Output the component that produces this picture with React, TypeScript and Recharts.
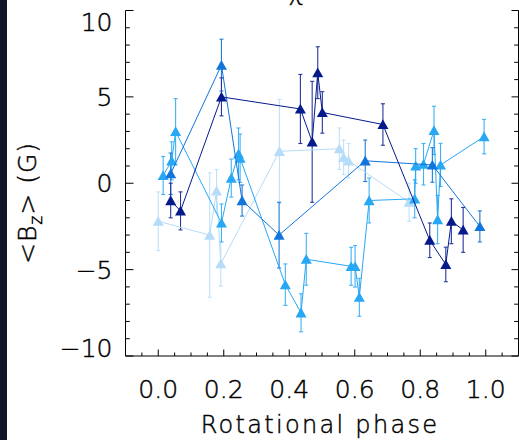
import React from "react";
import { ScatterChart, Scatter, XAxis, YAxis, ErrorBar, Label } from "recharts";

// Rotational phase, <Bz> (G), error (G)
const navyPhase = [0.038, 0.068, 0.193, 0.434, 0.47, 0.487, 0.501, 0.686, 0.829, 0.878, 0.895, 0.931];
const navyBz = [-1.0, -1.6, 5.0, 4.3, 2.4, 6.4, 4.1, 3.4, -3.3, -4.7, -2.2, -2.7];
const navyErr = [1.0, 1.1, 1.1, 2.0, 3.5, 1.5, 1.2, 1.2, 1.0, 1.0, 1.3, 1.3];

const deepPhase = [0.038, 0.193, 0.256, 0.369, 0.632, 0.837, 0.982];
const deepBz = [0.55, 6.84, -1.0, -3.0, 1.3, 1.06, -2.5];
const deepErr = [1.2, 1.5, 0.9, 1.9, 1.2, 1.0, 0.9];

const skyPhase = [0.015, 0.041, 0.053, 0.193, 0.223, 0.245, 0.25, 0.388, 0.436, 0.452, 0.589, 0.601, 0.614, 0.644, 0.783, 0.786, 0.81, 0.842, 0.853, 0.862, 0.995];
const skyBz = [0.45, 1.3, 3.0, -2.3, 0.3, 1.7, 1.45, -5.87, -7.5, -4.4, -4.81, -4.81, -6.6, -1.0, -0.9, 1.0, 1.1, 3.06, -2.1, 1.06, 2.7];
const skyErr = [1.1, 1.1, 1.9, 1.1, 1.1, 1.5, 1.4, 1.2, 1.1, 1.5, 1.1, 1.2, 1.1, 1.3, 1.1, 1.0, 1.2, 1.4, 1.4, 1.25, 1.0];

const lightPhase = [0.0, 0.157, 0.178, 0.191, 0.37, 0.553, 0.566, 0.581, 0.766];
const lightBz = [-2.2, -3.0, -0.45, -4.66, 1.85, 2.0, 1.5, 1.3, -1.1];
const lightErr = [1.7, 3.6, 1.25, 1.3, 3.0, 1.2, 1.0, 1.0, 1.1];

const xMajor = [0.0, 0.2, 0.4, 0.6, 0.8, 1.0];
const xMinor = [-0.1, -0.05, 0.0, 0.05, 0.1, 0.15, 0.2, 0.25, 0.3, 0.35, 0.4, 0.45, 0.5, 0.55, 0.6, 0.65, 0.7, 0.75, 0.8, 0.85, 0.9, 0.95, 1.0, 1.05, 1.1];
const yMajor = [-10, -5, 0, 5, 10];
const yMinor = [-10, -9, -8, -7, -6, -5, -4, -3, -2, -1, 0, 1, 2, 3, 4, 5, 6, 7, 8, 9, 10];

const build = (p: number[], b: number[], e: number[]) => p.map((x, i) => ({ x, y: b[i], err: e[i] }));

const series = [
  { name: "light", color: "#b5dcf8", bar: "#bfe2fa", data: build(lightPhase, lightBz, lightErr) },
  { name: "sky", color: "#27a7f4", bar: "#3fb2f6", data: build(skyPhase, skyBz, skyErr) },
  { name: "deep", color: "#1275dc", bar: "#1f7ad8", data: build(deepPhase, deepBz, deepErr) },
  { name: "navy", color: "#061a8c", bar: "#26369c", data: build(navyPhase, navyBz, navyErr) },
];

const FONT = "DejaVu Sans";
const FW = 200;
const INK = "#000";
const TS = { stroke: "#000", strokeWidth: 0.45 };
const isMajor = (v: number, list: number[]) => list.some((m) => Math.abs(m - v) < 1e-6);

const Tri = (color: string) => (props: any) => {
  const { cx, cy } = props;
  if (cx == null || cy == null) return null;
  const pts = `${cx},${cy - 5.2} ${cx - 5.5},${cy + 4.6} ${cx + 5.5},${cy + 4.6}`;
  return <polygon points={pts} fill={color} stroke="none" />;
};

const BottomTick = (props: any) => {
  const { x, y, payload } = props;
  const axisY = y - 4;
  const major = isMajor(payload.value, xMajor);
  return (
    <g>
      <line x1={x} x2={x} y1={axisY} y2={axisY - (major ? 6.5 : 3.5)} stroke="#000" strokeWidth={1} />
      {major && (
        <text x={x} y={axisY + 42} textAnchor="middle" fontFamily={FONT} fontWeight={FW} fontSize={25} fill={INK} {...TS}>
          {payload.value.toFixed(1)}
        </text>
      )}
    </g>
  );
};

const TopTick = (props: any) => {
  const { x, y, payload } = props;
  const axisY = y + 4;
  const major = isMajor(payload.value, xMajor);
  return <line x1={x} x2={x} y1={axisY} y2={axisY + (major ? 6.5 : 3.5)} stroke="#000" strokeWidth={1} />;
};

const LeftTick = (props: any) => {
  const { x, y, payload } = props;
  const axisX = x + 4;
  const v = payload.value;
  const major = isMajor(v, yMajor);
  let dy = 9;
  if (v === 10) dy = 20;
  if (v === -10) dy = 1;
  return (
    <g>
      <line x1={axisX} x2={axisX + (major ? 8 : 4.3)} y1={y} y2={y} stroke="#000" strokeWidth={1} />
      {major && (
        <text x={axisX - 13} y={y + dy} textAnchor="end" fontFamily={FONT} fontWeight={FW} fontSize={25} fill={INK} {...TS}>
          {v < 0 ? "\u2212" + Math.abs(v) : String(v)}
        </text>
      )}
    </g>
  );
};

const RightTick = (props: any) => {
  const { x, y, payload } = props;
  const axisX = x - 4;
  const major = isMajor(payload.value, yMajor);
  return <line x1={axisX} x2={axisX - (major ? 7 : 4.3)} y1={y} y2={y} stroke="#000" strokeWidth={1} />;
};

const YLabel = () => (
  <g>
    <text
      transform="translate(36,203) rotate(-90)"
      textAnchor="middle"
      fontFamily={FONT}
      fontWeight={FW}
      fontSize={25}
      fill={INK}
      letterSpacing={1}
      {...TS}
    >
      {"<B"}
      <tspan fontSize={17} dy={6}>z</tspan>
      <tspan dy={-6}>{"> (G)"}</tspan>
    </text>
    <text x={296} y={0} textAnchor="middle" fontFamily={FONT} fontWeight={FW} fontSize={25} fill={INK} {...TS}>
      χ
    </text>
  </g>
);

export default function App() {
  return (
    <div style={{ position: "absolute", left: 0, top: 0, width: 519, height: 440, background: "#fff", overflow: "hidden" }}>
      <div style={{ position: "absolute", left: 0, top: 0, width: 7, height: 440, background: "#11172a" }} />
      <ScatterChart width={519} height={440} margin={{ top: 10.5, right: 0, bottom: 0, left: 0 }}>
        <XAxis
          xAxisId="b"
          dataKey="x"
          type="number"
          domain={[-0.1, 1.1]}
          allowDataOverflow
          ticks={xMinor}
          interval={0}
          height={84}
          tickSize={0}
          tickMargin={4}
          tick={<BottomTick />}
          axisLine={{ stroke: "#000", strokeWidth: 1 }}
          tickLine={false}
        >
          <Label
            content={() => (
              <text x={320} y={433} textAnchor="middle" fontFamily={FONT} fontWeight={FW} fontSize={24} letterSpacing={2.3} fill={INK} {...TS}>
                Rotational phase
              </text>
            )}
          />
        </XAxis>
        <XAxis
          xAxisId="t"
          orientation="top"
          dataKey="x"
          type="number"
          domain={[-0.1, 1.1]}
          allowDataOverflow
          ticks={xMinor}
          interval={0}
          height={0}
          tickSize={0}
          tickMargin={4}
          tick={<TopTick />}
          axisLine={{ stroke: "#000", strokeWidth: 1 }}
          tickLine={false}
        />
        <YAxis
          yAxisId="l"
          dataKey="y"
          type="number"
          domain={[-10, 10]}
          allowDataOverflow
          ticks={yMinor}
          interval={0}
          width={125.5}
          tickSize={0}
          tickMargin={4}
          tick={<LeftTick />}
          axisLine={{ stroke: "#000", strokeWidth: 1 }}
          tickLine={false}
        >
          <Label content={() => <YLabel />} />
        </YAxis>
        <YAxis
          yAxisId="r"
          orientation="right"
          dataKey="y"
          type="number"
          domain={[-10, 10]}
          allowDataOverflow
          ticks={yMinor}
          interval={0}
          width={0.5}
          tickSize={0}
          tickMargin={4}
          tick={<RightTick />}
          axisLine={{ stroke: "#000", strokeWidth: 1 }}
          tickLine={false}
        />
        {series.map((s) => (
          <Scatter
            key={s.name}
            name={s.name}
            data={s.data}
            xAxisId="b"
            yAxisId="l"
            fill={s.color}
            line={{ stroke: s.color, strokeWidth: 1 }}
            lineType="joint"
            shape={Tri(s.color)}
            isAnimationActive={false}
          >
            <ErrorBar dataKey="err" direction="y" width={2} stroke={s.bar} strokeWidth={1.1} isAnimationActive={false} />
          </Scatter>
        ))}
      </ScatterChart>
    </div>
  );
}
